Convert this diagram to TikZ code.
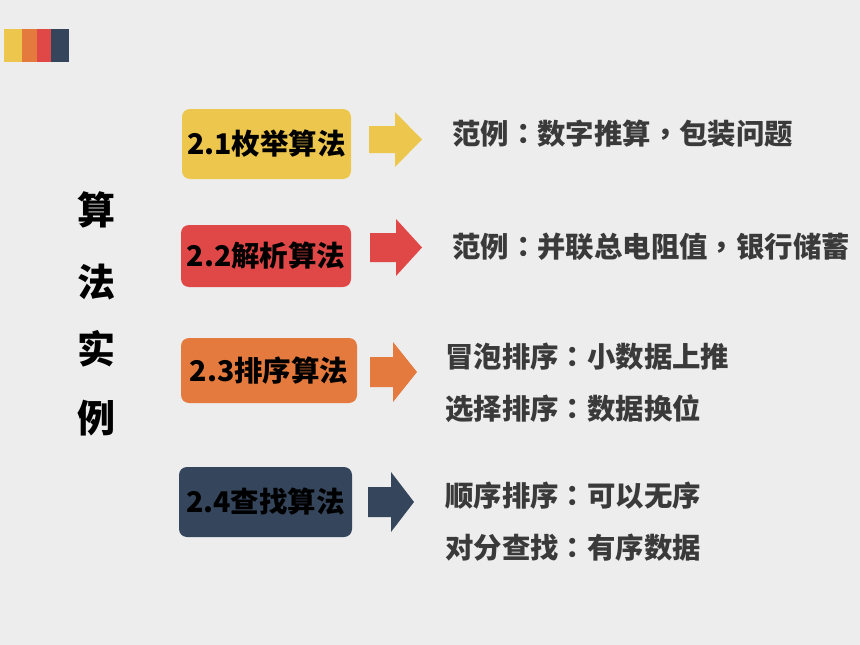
\documentclass[tikz,border=0pt]{standalone}
\usepackage{fontspec}
\newfontfamily\cjk{Noto Sans CJK SC}
\newfontfamily\cjktc{Noto Sans CJK TC}
\usetikzlibrary{positioning}
\definecolor{bg}{HTML}{EDEDED}
\definecolor{cyel}{HTML}{EDC64D}
\definecolor{cora}{HTML}{E47A3D}
\definecolor{cred}{HTML}{E04848}
\definecolor{cnav}{HTML}{35465C}
\definecolor{ctxt}{HTML}{3A3A3A}
\newcommand{\fc}{{\cjktc ：}}
\newcommand{\fm}{{\cjktc ，}}
\tikzset{
  algbox/.style={rounded corners=8pt, inner sep=0pt, font=\cjk\bfseries\fontsize{28.5}{32}\selectfont, text=black},
  desc/.style={anchor=west, inner sep=0pt, font=\cjk\bfseries\fontsize{28.4}{32}\selectfont, text=ctxt},
  sidechar/.style={inner sep=0pt, font=\cjk\bfseries\fontsize{38}{40}\selectfont, text=black},
}
% \blockarrow{x0}{xhead}{xtip}{ymid}{shaft half}{head half}{colour}
\newcommand{\blockarrow}[7]{%
  \fill[#7] (#1,#4-#5) -- (#2,#4-#5) -- (#2,#4-#6) -- (#3,#4) -- (#2,#4+#6) -- (#2,#4+#5) -- (#1,#4+#5) -- cycle;}
\begin{document}
\begin{tikzpicture}[x=1pt,y=-1pt]
\fill[bg] (0,0) rectangle (860,645);
\useasboundingbox (0,0) rectangle (860,645);
% colour bar
\fill[cyel] (4,29) rectangle (22,62);
\fill[cora] (22,29) rectangle (37,62);
\fill[cred] (37,29) rectangle (51,62);
\fill[cnav] (51,29) rectangle (69,62);
% side title
\node[sidechar] (s1) at (96,210) {算};
\node[sidechar] (s2) at (96,282) {法};
\node[sidechar] (s3) at (96,349) {实};
\node[sidechar] (s4) at (96,418) {例};
% boxes
\node[algbox, fill=cyel, minimum width=169pt, minimum height=70pt] (b1) at (266.5,144) {2.1枚举算法};
\node[algbox, fill=cred, minimum width=170pt, minimum height=62pt] (b2) at (266,256) {2.2解析算法};
\node[algbox, fill=cora, minimum width=176pt, minimum height=65pt] (b3) at (269,370.5) {2.3排序算法};
\node[algbox, fill=cnav, minimum width=173pt, minimum height=70pt] (b4) at (265.5,502) {2.4查找算法};
% arrows
\blockarrow{369}{395}{422}{139.5}{13.5}{27.5}{cyel}
\blockarrow{370}{396}{422}{247.5}{14.5}{28.5}{cred}
\blockarrow{370}{393}{417}{372}{15}{30}{cora}
\blockarrow{368}{391}{414}{502}{15}{30}{cnav}
% descriptions
\node[desc] (d1) at (452,134) {范例\fc 数字推算\fm 包装问题};
\node[desc] (d2) at (452,247) {范例\fc 并联总电阻值\fm 银行储蓄};
\node[desc] (d3) at (445,357) {冒泡排序\fc 小数据上推};
\node[desc] (d4) at (445,409) {选择排序\fc 数据换位};
\node[desc] (d5) at (445,496) {顺序排序\fc 可以无序};
\node[desc] (d6) at (445,548) {对分查找\fc 有序数据};
\end{tikzpicture}
\end{document}
